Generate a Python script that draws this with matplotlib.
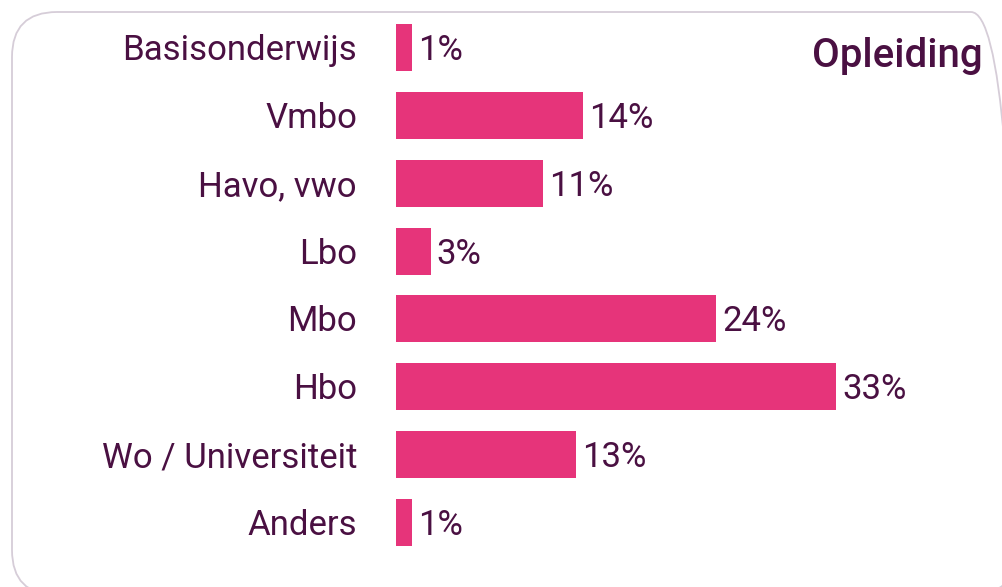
import matplotlib
matplotlib.use("Agg")
import matplotlib.pyplot as plt
from matplotlib.patches import FancyBboxPatch

categories = ["Basisonderwijs", "Vmbo", "Havo, vwo", "Lbo", "Mbo", "Hbo",
              "Wo / Universiteit", "Anders"]
values = [1.2, 14.0, 11.0, 2.6, 24.0, 33.0, 13.5, 1.2]
value_labels = ["1%", "14%", "11%", "3%", "24%", "33%", "13%", "1%"]
title = "Opleiding"

W, H = 1003, 587
DPI = 100
BAR = "#E6347A"
TXT = "#4A1042"
FONT = "Roboto"

fig = plt.figure(figsize=(W / DPI, H / DPI), dpi=DPI)
fig.patch.set_facecolor("white")

# rounded border (in pixel coords)
border = FancyBboxPatch((12 + 45, H - 595 + 45), (1016 - 12) - 90, (595 - 12) - 90,
                        boxstyle="round,pad=45", transform=None,
                        facecolor="none", edgecolor="#D6CDD8", linewidth=1.3,
                        zorder=-5)
fig.patches.append(border)

# axes: x from pixel 396 to 1003, full height
x0 = 396
ax = fig.add_axes([x0 / W, 0, (W - x0) / W, 1])
ax.set_facecolor("none")
px_per_unit_x = 13.33
ax.set_xlim(0, (W - x0) / px_per_unit_x)
step = (522.5 - 47.5) / 7
ax.set_ylim(7 + (H - 522.5) / step, -47.5 / step)
ax.axis("off")

ypos = list(range(len(categories)))
ax.barh(ypos, values, height=47 / step, color=BAR, linewidth=0)

for y, v, lab, cat in zip(ypos, values, value_labels, categories):
    ax.annotate(lab, (v, y), xytext=(6, -3), textcoords="offset pixels",
                ha="left", va="center", fontsize=25, color=TXT, family=FONT)
    ax.annotate(cat, (0, y), xytext=(-39, -3), textcoords="offset pixels",
                ha="right", va="center", fontsize=25, color=TXT, family=FONT,
                annotation_clip=False)

fig.text(983 / W, 1 - 56 / H, title, ha="right", va="center", fontsize=29,
         fontweight="medium", color=TXT, family=FONT)

fig.savefig("out.png", dpi=DPI)
